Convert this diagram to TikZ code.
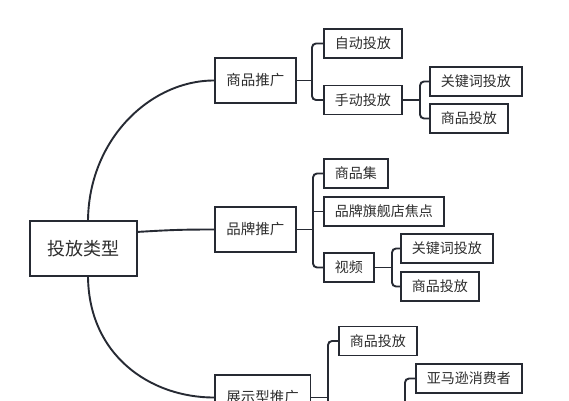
\documentclass[tikz,border=0pt]{standalone}
\usepackage{fontspec}
\newfontfamily\cjk{Noto Sans CJK SC}
\definecolor{lc}{HTML}{262A33}
\definecolor{tc}{HTML}{2E2E2E}
\begin{document}
\begin{tikzpicture}[x=1pt,y=-1pt,
  box/.style={draw=lc, line width=1.9pt, fill=white, text=tc, inner ysep=0pt},
  rootbox/.style={box, minimum width=107pt, minimum height=55pt, font=\cjk\fontsize{18}{18}\selectfont},
  lvone/.style={box, anchor=west, minimum height=45pt, inner xsep=11.5pt, font=\cjk\fontsize{14.5}{14.5}\selectfont},
  lvtwo/.style={box, anchor=west, minimum height=29pt, inner xsep=11pt, font=\cjk\fontsize{14}{14}\selectfont},
  conn/.style={draw=lc, line width=1.9pt},
  brk/.style={conn, rounded corners=4pt}]
\clip (0,0) rectangle (569,400);
\fill[white] (0,0) rectangle (569,400);

\coordinate (rtop) at (88,222);
\coordinate (rright) at (136,232);
\coordinate (rbot) at (88,275);

% nodes
\node[rootbox] (root) at (83.5,248.5) {投放类型};
\node[lvone] (spt) at (214,80.5) {商品推广};
\node[lvone] (ppt) at (214,229.5) {品牌推广};
\node[lvone] (zst) at (214,397.5) {展示型推广};

\node[lvtwo] (zd) at (323,43.5) {自动投放};
\node[lvtwo] (sd) at (323,100) {手动投放};
\node[lvtwo] (gj1) at (429,81.5) {关键词投放};
\node[lvtwo] (sp1) at (429,118.5) {商品投放};

\node[lvtwo] (spj) at (323,173.5) {商品集};
\node[lvtwo] (qjd) at (323,211.5) {品牌旗舰店焦点};
\node[lvtwo] (sp) at (323,267.5) {视频};
\node[lvtwo] (gj2) at (400,248.5) {关键词投放};
\node[lvtwo] (sp2) at (400,286.5) {商品投放};

\node[lvtwo] (sp3) at (338,341) {商品投放};
\node[lvtwo] (ymx) at (415,378.5) {亚马逊消费者};

% bracket coordinates
\coordinate (b1) at (312,80.5);
\coordinate (b2) at (420,100);
\coordinate (b3) at (313,229.5);
\coordinate (b4) at (392,267.5);
\coordinate (b5) at (328,397.5);
\coordinate (b5end) at (328,430);
\coordinate (b6end) at (405,430);

% root curves
\draw[conn] (rtop) .. controls (88,140) and (150,80.5) .. (spt.west);
\draw[conn] (rright) .. controls (170,230) and (180,229.5) .. (ppt.west);
\draw[conn] (rbot) .. controls (88,355) and (150,397.5) .. (zst.west);

% brackets
\draw[conn] (spt.east) -- (b1);
\draw[brk] (zd.west) -| (b1) |- (sd.west);
\draw[conn] (sd.east) -- (b2);
\draw[brk] (gj1.west) -| (b2) |- (sp1.west);

\draw[conn] (ppt.east) -- (b3);
\draw[brk] (spj.west) -| (b3) |- (sp.west);
\draw[conn] (b3 |- qjd.west) -- (qjd.west);
\draw[conn] (sp.east) -- (b4);
\draw[brk] (gj2.west) -| (b4) |- (sp2.west);

\draw[conn] (zst.east) -- (b5);
\draw[brk] (sp3.west) -| (b5) -- (b5end);
\draw[brk] (ymx.west) -| (b6end);

% redraw root box over connector ends
\node[rootbox] at (root) {投放类型};
\end{tikzpicture}
\end{document}
